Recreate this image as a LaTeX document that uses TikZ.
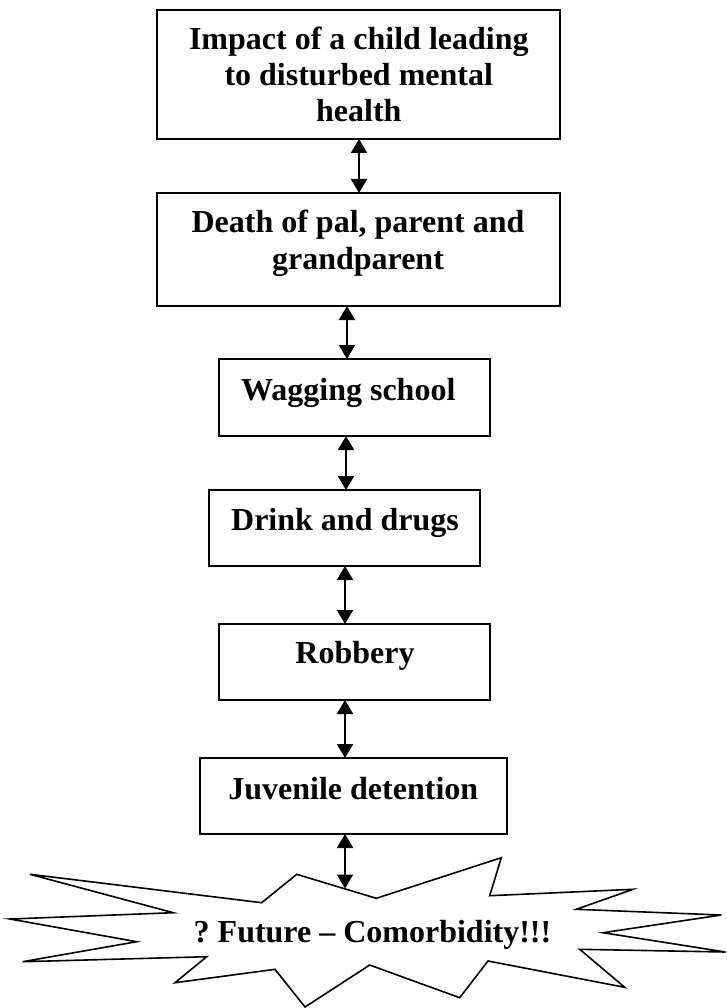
\documentclass[tikz,border=0pt]{standalone}
\usepackage{fontspec}
\setmainfont{Liberation Serif}
\usetikzlibrary{arrows.meta}

\tikzset{
  stagebox/.style={draw, line width=1.8pt, inner sep=0pt, outer sep=0pt},
  stagetext/.style={font=\bfseries\fontsize{32}{36}\selectfont\frenchspacing, inner sep=0pt, anchor=base, align=flush center},
  link/.style={line width=2pt, {Triangle[length=14pt,width=16pt]}-{Triangle[length=14pt,width=16pt]}},
  burst/.style={draw, line width=1.6pt, line join=miter}
}

\begin{document}
\frenchspacing
\begin{tikzpicture}[x=1pt, y=-1pt]
  \useasboundingbox (0,0) rectangle (726,1008);

  % stage boxes (outline only; the texts are set separately)
  \node[stagebox, minimum width=403pt, minimum height=129pt] (b1) at (358.5,74.5) {};
  \node[stagebox, minimum width=403pt, minimum height=113pt] (b2) at (358.5,249.5) {};
  \node[stagebox, minimum width=271pt, minimum height=77pt]  (b3) at (354.5,397.5) {};
  \node[stagebox, minimum width=271pt, minimum height=76pt]  (b4) at (344.5,528) {};
  \node[stagebox, minimum width=271pt, minimum height=76pt]  (b5) at (354.5,662) {};
  \node[stagebox, minimum width=307pt, minimum height=76pt]  (b6) at (353.5,796) {};

  % stage texts
  \node[stagetext, text width=400pt] (t1) at (358.8,50) {Impact of a child leading\\to disturbed mental\\health};
  \node[stagetext, text width=400pt] (t2) at (358,233) {Death of pal, parent and\\grandparent};
  \node[stagetext] (t3) at (348.3,400) {Wagging school};
  \node[stagetext] (t4) at (345,530) {Drink and drugs};
  \node[stagetext] (t5) at (355,663) {Robbery};
  \node[stagetext] (t6) at (353.3,799) {Juvenile detention};

  % starburst outline
  \draw[burst] (30,874.3) -- (261.7,902.7) -- (296.7,874.3) -- (376.3,898.3)
    -- (501.3,857.7) -- (489.7,895.7) -- (633,889.3) -- (576.3,909.3)
    -- (721.3,915) -- (603,932.7) -- (725.5,952) -- (579.7,949.3)
    -- (624.7,987.3) -- (488,961) -- (459.7,997.7) -- (369.7,965)
    -- (305,1007) -- (275,969.3) -- (175,982.7) -- (206.7,956.7)
    -- (22.7,961.7) -- (136.7,941.7) -- (10,919) -- (173.3,912.7) -- cycle;
  \coordinate (burst) at (345,888.5);
  \node[stagetext] (t7) at (372.5,942.7) {? Future -- Comorbidity!!!};

  % double-headed links between the stages
  \draw[link] ([xshift=0.5pt]b1.south) -- ([xshift=0.5pt]b2.north);
  \draw[link] ([xshift=-11.5pt]b2.south) -- ([xshift=-7.5pt]b3.north);
  \draw[link] ([xshift=-8.5pt]b3.south) -- ([xshift=1.5pt]b4.north);
  \draw[link] ([xshift=0.5pt]b4.south) -- ([xshift=-9.5pt]b5.north);
  \draw[link] ([xshift=-9.5pt]b5.south) -- ([xshift=-8.5pt]b6.north);
  \draw[link] ([xshift=-8.5pt]b6.south) -- (burst);
\end{tikzpicture}
\end{document}
